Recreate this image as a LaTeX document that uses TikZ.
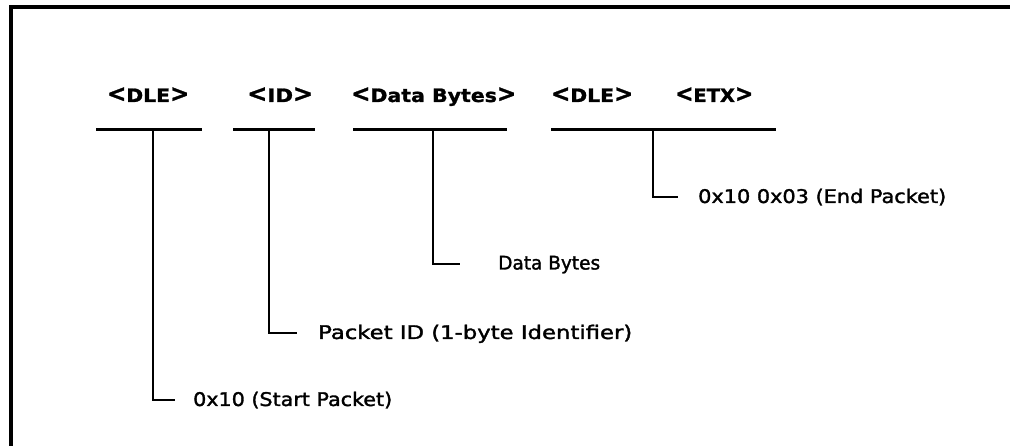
\documentclass[tikz,border=0pt]{standalone}
\usepackage{fontspec}
\usepackage{graphicx}
\setmainfont{DejaVu Sans}
\newfontfamily\bodyfnt[RawFeature={embolden=1.6}]{DejaVu Sans}
\newfontfamily\hdrfnt[RawFeature={embolden=1.2}]{DejaVu Sans Bold}
\newcommand{\lt}{\raisebox{0.3pt}{\scalebox{1.12}[1.3]{<}}}
\newcommand{\gt}{\raisebox{0.3pt}{\scalebox{1.12}[1.3]{>}}}
\newcommand{\hdrtxt}[2]{\resizebox{#1}{\height}{\fontsize{18.4}{20}\hdrfnt #2}}
\newcommand{\bodytxt}[2]{\resizebox{#1}{\height}{\fontsize{18.8}{20}\bodyfnt #2}}
\begin{document}
\begin{tikzpicture}[x=1pt,y=-1pt,
  hdr/.style={anchor=base west,inner sep=0pt},
  lbl/.style={anchor=base west,inner sep=0pt},
  bar/.style={line width=2.2pt},
  elbow/.style={line width=2.2pt,line join=miter},
  frame/.style={line width=4pt,line join=miter}]
\useasboundingbox (0,0) rectangle (1010,446);
\fill[white] (0,0) rectangle (1010,446);
% frame (top and left)
\coordinate (fb) at (11,446);
\coordinate (fc) at (11,7);
\coordinate (fr) at (1010,7);
\draw[frame] (fb) -- (fc) -- (fr);
% headers
\node[hdr] (h1) at (107,102) {\hdrtxt{82pt}{\lt DLE\gt}};
\node[hdr] (h2) at (247,102) {\hdrtxt{66pt}{\lt ID\gt}};
\node[hdr] (h3) at (351,102) {\hdrtxt{165pt}{\lt Data Bytes\gt}};
\node[hdr] (h4) at (551,102) {\hdrtxt{82pt}{\lt DLE\gt}};
\node[hdr] (h5) at (675,102) {\hdrtxt{78pt}{\lt ETX\gt}};
% bars
\coordinate (b1l) at (96,129.5);  \coordinate (b1r) at (202,129.5); \coordinate (b1m) at (153,129.5);
\coordinate (b2l) at (233,129.5); \coordinate (b2r) at (315,129.5); \coordinate (b2m) at (269,129.5);
\coordinate (b3l) at (353,129.5); \coordinate (b3r) at (507,129.5); \coordinate (b3m) at (433,129.5);
\coordinate (b4l) at (551,129.5); \coordinate (b4r) at (776,129.5); \coordinate (b4m) at (653,129.5);
\draw[bar] (b1l) -- (b1r);
\draw[bar] (b2l) -- (b2r);
\draw[bar] (b3l) -- (b3r);
\draw[bar] (b4l) -- (b4r);
% labels
\node[lbl] (l1) at (193,406) {\bodytxt{199pt}{0x10 (Start Packet)}};
\node[lbl] (l2) at (318,339) {\bodytxt{314pt}{Packet ID (1-byte Identifier)}};
\node[lbl] (l3) at (498,269.5) {\bodytxt{102pt}{Data Bytes}};
\node[lbl] (l4) at (698,203) {\bodytxt{248pt}{0x10 0x03 (End Packet)}};
% elbow ends
\coordinate (e1) at (175,400);
\coordinate (e2) at (297,333);
\coordinate (e3) at (460,264);
\coordinate (e4) at (678,197);
\draw[elbow] (b1m) |- (e1);
\draw[elbow] (b2m) |- (e2);
\draw[elbow] (b3m) |- (e3);
\draw[elbow] (b4m) |- (e4);
\end{tikzpicture}
\end{document}
